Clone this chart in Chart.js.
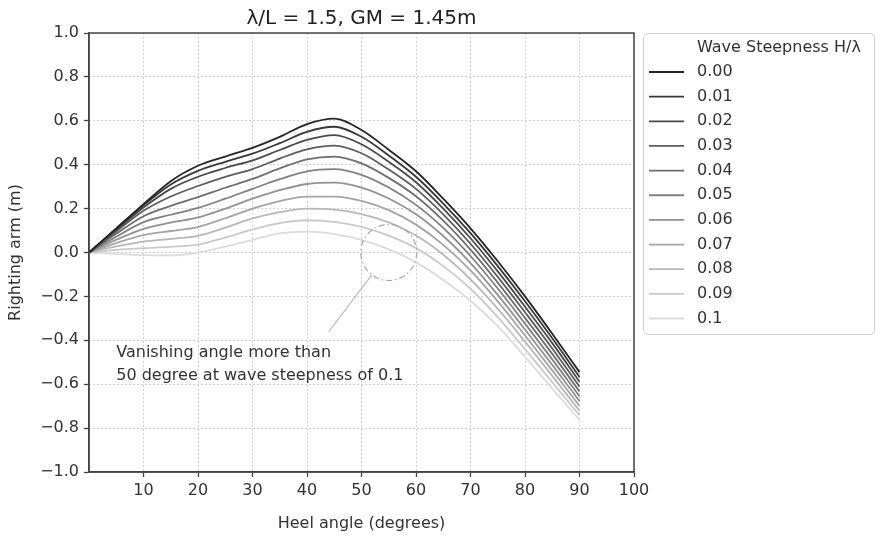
<!DOCTYPE html>
<html lang="en">
<head>
  <meta charset="UTF-8">
  <title>Righting arm vs heel angle</title>
  <script src="https://cdn.jsdelivr.net/npm/chart.js"></script>
  <style>
    body { margin: 0; background: #fff; }
    .container { width: 876px; height: 537px; }
  </style>
</head>
<body>
<div class="container">
  <canvas id="gz-chart"></canvas>
</div>
<script>
// heel angles (degrees) where the curves were read
const heelAngles = [0, 5, 10, 15, 20, 25, 30, 35, 40, 45, 50, 55, 60, 65, 70, 75, 80, 85, 90];

// righting arm (m) per wave steepness H/lambda
const gz000 = [0, 0.110, 0.220, 0.325, 0.395, 0.437, 0.477, 0.527, 0.585, 0.610, 0.558, 0.468, 0.370, 0.245, 0.110, -0.040, -0.200, -0.370, -0.545];
const gz001 = [0, 0.108, 0.215, 0.310, 0.372, 0.413, 0.450, 0.498, 0.550, 0.573, 0.527, 0.442, 0.345, 0.223, 0.088, -0.062, -0.222, -0.391, -0.567];
const gz002 = [0, 0.103, 0.205, 0.290, 0.345, 0.385, 0.420, 0.467, 0.513, 0.535, 0.493, 0.413, 0.320, 0.200, 0.065, -0.086, -0.247, -0.413, -0.589];
const gz003 = [0, 0.096, 0.190, 0.255, 0.303, 0.345, 0.380, 0.428, 0.470, 0.487, 0.452, 0.378, 0.290, 0.174, 0.040, -0.111, -0.272, -0.437, -0.611];
const gz004 = [0, 0.085, 0.165, 0.212, 0.252, 0.295, 0.335, 0.383, 0.424, 0.437, 0.406, 0.340, 0.256, 0.145, 0.013, -0.137, -0.298, -0.462, -0.633];
const gz005 = [0, 0.072, 0.138, 0.172, 0.203, 0.245, 0.290, 0.334, 0.370, 0.380, 0.354, 0.296, 0.217, 0.112, -0.016, -0.164, -0.324, -0.487, -0.655];
const gz006 = [0, 0.058, 0.108, 0.136, 0.160, 0.200, 0.245, 0.284, 0.312, 0.318, 0.296, 0.246, 0.174, 0.075, -0.048, -0.193, -0.351, -0.512, -0.677];
const gz007 = [0, 0.043, 0.079, 0.098, 0.116, 0.156, 0.200, 0.234, 0.255, 0.255, 0.235, 0.193, 0.127, 0.035, -0.082, -0.223, -0.378, -0.537, -0.699];
const gz008 = [0, 0.028, 0.050, 0.062, 0.076, 0.113, 0.155, 0.184, 0.200, 0.195, 0.175, 0.137, 0.077, -0.010, -0.122, -0.256, -0.406, -0.562, -0.721];
const gz009 = [0, 0.012, 0.020, 0.026, 0.036, 0.068, 0.105, 0.134, 0.147, 0.140, 0.117, 0.077, 0.020, -0.062, -0.165, -0.294, -0.440, -0.591, -0.742];
const gz010 = [0, -0.006, -0.012, -0.013, 0.000, 0.027, 0.058, 0.087, 0.095, 0.084, 0.057, 0.014, -0.045, -0.125, -0.220, -0.335, -0.475, -0.620, -0.763];

const steepness = ['0.00', '0.01', '0.02', '0.03', '0.04', '0.05', '0.06', '0.07', '0.08', '0.09', '0.1'];
const gzSeries = [gz000, gz001, gz002, gz003, gz004, gz005, gz006, gz007, gz008, gz009, gz010];

const xTickValues = [10, 20, 30, 40, 50, 60, 70, 80, 90, 100];
const yTickValues = [-1.0, -0.8, -0.6, -0.4, -0.2, 0.0, 0.2, 0.4, 0.6, 0.8, 1.0];

// annotation (data units)
const noteLines = ['Vanishing angle more than', '50 degree at wave steepness of 0.1'];
const noteAt = { x: 5, y: -0.458 };
const circleAt = { x: 55, y: 0 };
const pointerFrom = { x: 44, y: -0.36 };

// grey shades, dark for calm water to light for steep waves
function shade(i) {
  const v = Math.round(38 + i * 18.2);
  return 'rgb(' + v + ',' + v + ',' + v + ')';
}

Chart.defaults.font.family = "'DejaVu Sans', sans-serif";
Chart.defaults.font.size = 16;
Chart.defaults.color = '#333';

const datasets = gzSeries.map((s, i) => ({
  label: steepness[i],
  data: heelAngles.map((a, k) => ({ x: a, y: s[k] })),
  borderColor: shade(i),
  borderWidth: 1.8,
  pointRadius: 0,
  cubicInterpolationMode: 'monotone',
  fill: false,
}));

const overlay = {
  id: 'overlay',
  afterDraw(chart) {
    const { ctx, chartArea: a, scales: { x, y } } = chart;
    ctx.save();

    // annotation circle + pointer
    const cx = x.getPixelForValue(circleAt.x), cy = y.getPixelForValue(circleAt.y);
    const r = 28;
    ctx.strokeStyle = '#a8a8a8';
    ctx.lineWidth = 1.2;
    ctx.setLineDash([6, 3, 1.5, 3]);
    ctx.beginPath();
    ctx.arc(cx, cy, r, 0, Math.PI * 2);
    ctx.stroke();
    ctx.setLineDash([]);
    const px = x.getPixelForValue(pointerFrom.x), py = y.getPixelForValue(pointerFrom.y);
    const d = Math.hypot(px - cx, py - cy);
    ctx.strokeStyle = '#bdbdbd';
    ctx.beginPath();
    ctx.moveTo(px, py);
    ctx.lineTo(cx + (px - cx) / d * r, cy + (py - cy) / d * r);
    ctx.stroke();

    ctx.fillStyle = '#333';
    ctx.font = "16px 'DejaVu Sans'";
    ctx.textAlign = 'left';
    ctx.textBaseline = 'middle';
    const tx = x.getPixelForValue(noteAt.x), ty = y.getPixelForValue(noteAt.y);
    noteLines.forEach((t, i) => ctx.fillText(t, tx, ty + i * 23));

    // box around the axes
    ctx.strokeStyle = '#444';
    ctx.lineWidth = 1.5;
    ctx.strokeRect(a.left, a.top, a.right - a.left, a.bottom - a.top);

    // legend
    const lx = a.right + 9.5, ly = a.top + 0.5, lw = 231, lh = 301;
    ctx.fillStyle = 'rgba(255,255,255,0.8)';
    ctx.strokeStyle = '#d0d0d0';
    ctx.lineWidth = 1;
    ctx.beginPath();
    ctx.roundRect(lx, ly, lw, lh, 4);
    ctx.fill();
    ctx.stroke();
    ctx.fillStyle = '#333';
    ctx.fillText('Wave Steepness H/\u03bb', lx + 53.5, ly + 14);
    chart.data.datasets.forEach((ds, i) => {
      const rowY = ly + 38.5 + i * 24.65;
      ctx.strokeStyle = ds.borderColor;
      ctx.lineWidth = ds.borderWidth;
      ctx.beginPath();
      ctx.moveTo(lx + 5.5, rowY);
      ctx.lineTo(lx + 40.5, rowY);
      ctx.stroke();
      ctx.fillStyle = '#333';
      ctx.fillText(ds.label, lx + 53.5, rowY);
    });
    ctx.restore();
  }
};

const gridStyle = {
  color: '#c4c4c4',
  lineWidth: 1,
  tickLength: 5,
  tickColor: '#444',
  tickWidth: 1.3,
  tickBorderDash: [],
};

new Chart(document.getElementById('gz-chart').getContext('2d'), {
  type: 'line',
  data: { datasets },
  options: {
    responsive: true,
    maintainAspectRatio: false,
    animation: false,
    layout: { padding: { left: 0, right: 242, top: 0, bottom: 0 } },
    plugins: {
      legend: { display: false },
      tooltip: { enabled: false },
      title: {
        display: true,
        fullSize: false,
        text: '\u03bb/L = 1.5, GM = 1.45m',
        font: { size: 20, weight: 'normal' },
        color: '#222',
        padding: { top: 7, bottom: 2 },
      },
    },
    scales: {
      x: {
        type: 'linear',
        min: 0,
        max: 100,
        afterBuildTicks: (scale) => { scale.ticks = xTickValues.map(v => ({ value: v })); },
        afterFit: (scale) => { scale.height = 65; },
        ticks: { padding: 4, maxRotation: 0 },
        grid: gridStyle,
        border: { display: true, color: '#444', width: 1.5, dash: [1.5, 2.5] },
        title: { display: true, text: 'Heel angle (degrees)', padding: { top: 4, bottom: 4 } },
      },
      y: {
        type: 'linear',
        min: -1,
        max: 1,
        afterBuildTicks: (scale) => { scale.ticks = yTickValues.map(v => ({ value: v })); },
        afterFit: (scale) => { scale.width = 89; },
        ticks: {
          padding: 5,
          callback: (v) => (Math.abs(v) < 1e-9 ? 0 : v).toFixed(1).replace('-', '\u2212'),
        },
        grid: gridStyle,
        border: { display: true, color: '#444', width: 1.5, dash: [1.5, 2.5] },
        title: { display: true, text: 'Righting arm (m)', padding: { top: 6, bottom: 4 } },
      },
    },
  },
  plugins: [overlay],
});
</script>
</body>
</html>
